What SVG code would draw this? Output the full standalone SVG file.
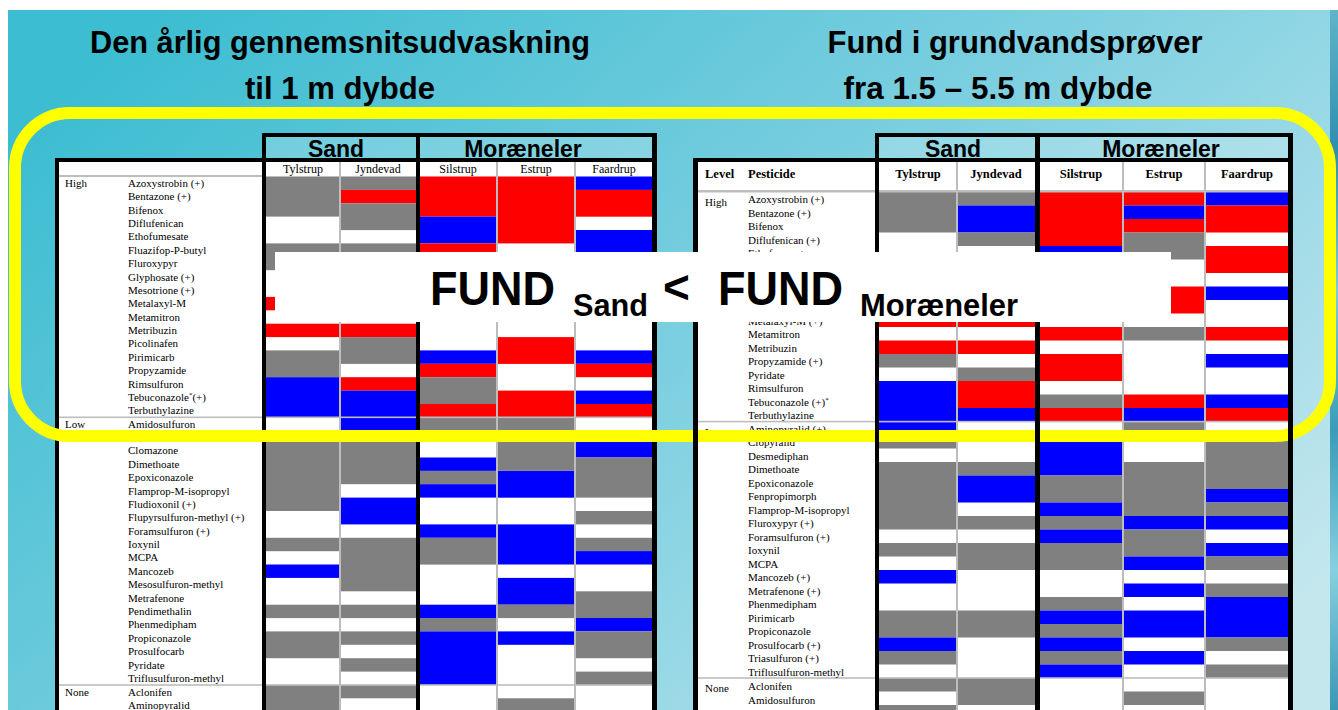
<svg xmlns="http://www.w3.org/2000/svg" width="1338" height="710" viewBox="0 0 1338 710">
<defs>
<linearGradient id="bg" x1="0" y1="0.2" x2="1" y2="0.8">
<stop offset="0" stop-color="#3dbdd1"/>
<stop offset="0.5" stop-color="#7ccfe0"/>
<stop offset="1" stop-color="#c4e7ee"/>
</linearGradient>
<linearGradient id="water" x1="0" y1="0" x2="0" y2="1">
<stop offset="0" stop-color="#5fb4c8"/>
<stop offset="0.2" stop-color="#2f8fae"/>
<stop offset="0.4" stop-color="#7ccbd9"/>
<stop offset="0.6" stop-color="#3a9cb8"/>
<stop offset="0.8" stop-color="#86d0de"/>
<stop offset="1" stop-color="#3a98b4"/>
</linearGradient>
</defs>
<style>
.t{font-family:"Liberation Sans",Arial,sans-serif;font-weight:bold;fill:#000}
.h{font-family:"Liberation Sans",Arial,sans-serif;font-weight:bold;font-size:23px;fill:#000;text-anchor:middle}
.l{font-family:"Liberation Serif","Times New Roman",serif;font-size:11px;fill:#000}
.sh{font-family:"Liberation Serif","Times New Roman",serif;font-size:12px;fill:#000;text-anchor:middle}
.rh{font-family:"Liberation Serif","Times New Roman",serif;font-size:12.5px;font-weight:bold;fill:#000}
.c{text-anchor:middle}
.G{fill:#808080}.R{fill:#ff0000}.B{fill:#0000ff}.W{fill:#ffffff}
.k{fill:#000}
.hd{fill:#ffffff;fill-opacity:0.2}
.sep{fill:#bdbdbd}
</style>

<g id="background">
<rect x="0" y="0" width="1338" height="710" fill="#ffffff"/>
<rect x="8" y="10" width="1330" height="700" fill="url(#bg)"/>
<rect x="1330" y="10" width="8" height="700" fill="url(#water)"/>
</g>

<g id="titles">
<text class="t" x="340" y="53" font-size="32" text-anchor="middle" textLength="500" lengthAdjust="spacingAndGlyphs">Den årlig gennemsnitsudvaskning</text>
<text class="t" x="340" y="99" font-size="32" text-anchor="middle" textLength="190" lengthAdjust="spacingAndGlyphs">til 1 m dybde</text>
<text class="t" x="1015" y="53" font-size="32" text-anchor="middle" textLength="375" lengthAdjust="spacingAndGlyphs">Fund i grundvandsprøver</text>
<text class="t" x="998" y="99" font-size="32" text-anchor="middle" textLength="309" lengthAdjust="spacingAndGlyphs">fra 1.5 – 5.5 m dybde</text>
</g>

<g id="left-table">
<rect class="hd" x="266" y="137" width="150" height="21"/>
<rect class="hd" x="420" y="137" width="232" height="21"/>
<text class="h" x="336" y="157">Sand</text>
<text class="h" x="523" y="157">Moræneler</text>
<rect class="W" x="59" y="162" width="203" height="548"/>
<rect class="W" x="266" y="162" width="386" height="548"/>
<rect class="sep" x="59" y="175" width="203" height="2"/>
<g id="left-cells">
<!-- Tylstrup -->
<rect class="G" x="266" y="176.5" width="74" height="40.1"/>
<rect class="G" x="266" y="243.4" width="74" height="26.8"/>
<rect class="R" x="266" y="296.9" width="74" height="13.4"/>
<rect class="R" x="266" y="323.7" width="74" height="13.4"/>
<rect class="G" x="266" y="350.4" width="74" height="26.8"/>
<rect class="B" x="266" y="377.2" width="74" height="40.1"/>
<rect class="G" x="266" y="430.7" width="74" height="80.3"/>
<rect class="G" x="266" y="537.8" width="74" height="13.4"/>
<rect class="B" x="266" y="564.5" width="74" height="13.4"/>
<rect class="G" x="266" y="604.7" width="74" height="13.4"/>
<rect class="G" x="266" y="631.4" width="74" height="26.8"/>
<rect class="G" x="266" y="684.9" width="74" height="26.8"/>
<!-- Jyndevad -->
<rect class="G" x="340" y="176.5" width="76" height="13.4"/>
<rect class="R" x="340" y="189.9" width="76" height="13.4"/>
<rect class="G" x="340" y="203.3" width="76" height="26.8"/>
<rect class="G" x="340" y="243.4" width="76" height="13.4"/>
<rect class="R" x="340" y="323.7" width="76" height="13.4"/>
<rect class="G" x="340" y="337.1" width="76" height="26.8"/>
<rect class="R" x="340" y="377.2" width="76" height="13.4"/>
<rect class="B" x="340" y="390.6" width="76" height="40.1"/>
<rect class="G" x="340" y="430.7" width="76" height="53.5"/>
<rect class="B" x="340" y="497.6" width="76" height="26.8"/>
<rect class="G" x="340" y="537.8" width="76" height="53.5"/>
<rect class="G" x="340" y="604.7" width="76" height="13.4"/>
<rect class="G" x="340" y="631.4" width="76" height="13.4"/>
<rect class="G" x="340" y="658.2" width="76" height="13.4"/>
<rect class="G" x="340" y="684.9" width="76" height="13.4"/>
<!-- Silstrup -->
<rect class="R" x="420" y="176.5" width="77" height="40.1"/>
<rect class="B" x="420" y="216.6" width="77" height="26.8"/>
<rect class="R" x="420" y="243.4" width="77" height="13.4"/>
<rect class="B" x="420" y="350.4" width="77" height="13.4"/>
<rect class="R" x="420" y="363.8" width="77" height="13.4"/>
<rect class="G" x="420" y="377.2" width="77" height="26.8"/>
<rect class="R" x="420" y="404" width="77" height="13.4"/>
<rect class="G" x="420" y="417.3" width="77" height="13.4"/>
<rect class="B" x="420" y="457.5" width="77" height="13.4"/>
<rect class="G" x="420" y="470.9" width="77" height="13.4"/>
<rect class="B" x="420" y="484.2" width="77" height="13.4"/>
<rect class="B" x="420" y="524.4" width="77" height="13.4"/>
<rect class="G" x="420" y="537.8" width="77" height="26.8"/>
<rect class="B" x="420" y="604.7" width="77" height="13.4"/>
<rect class="G" x="420" y="618" width="77" height="13.4"/>
<rect class="B" x="420" y="631.4" width="77" height="53.5"/>
<!-- Estrup -->
<rect class="R" x="497" y="176.5" width="78" height="66.9"/>
<rect class="R" x="497" y="337.1" width="78" height="26.8"/>
<rect class="R" x="497" y="390.6" width="78" height="26.8"/>
<rect class="G" x="497" y="417.3" width="78" height="53.5"/>
<rect class="B" x="497" y="470.9" width="78" height="26.8"/>
<rect class="B" x="497" y="524.4" width="78" height="40.1"/>
<rect class="B" x="497" y="577.9" width="78" height="26.8"/>
<rect class="G" x="497" y="604.7" width="78" height="13.4"/>
<rect class="B" x="497" y="631.4" width="78" height="13.4"/>
<rect class="G" x="497" y="698.3" width="78" height="13.4"/>
<!-- Faardrup -->
<rect class="B" x="575" y="176.5" width="77" height="13.4"/>
<rect class="R" x="575" y="189.9" width="77" height="26.8"/>
<rect class="B" x="575" y="230" width="77" height="26.8"/>
<rect class="B" x="575" y="350.4" width="77" height="13.4"/>
<rect class="R" x="575" y="363.8" width="77" height="13.4"/>
<rect class="B" x="575" y="390.6" width="77" height="13.4"/>
<rect class="R" x="575" y="404" width="77" height="13.4"/>
<rect class="B" x="575" y="430.7" width="77" height="26.8"/>
<rect class="G" x="575" y="457.5" width="77" height="40.1"/>
<rect class="G" x="575" y="511" width="77" height="13.4"/>
<rect class="G" x="575" y="537.8" width="77" height="13.4"/>
<rect class="B" x="575" y="551.1" width="77" height="13.4"/>
<rect class="G" x="575" y="591.3" width="77" height="26.8"/>
<rect class="B" x="575" y="618" width="77" height="13.4"/>
<rect class="G" x="575" y="631.4" width="77" height="26.8"/>
<rect class="G" x="575" y="671.6" width="77" height="13.4"/>
</g>
<rect class="sep" x="339" y="162" width="2" height="548"/>
<rect class="sep" x="496" y="162" width="2" height="548"/>
<rect class="sep" x="574" y="162" width="2" height="548"/>
<rect class="sep" x="59" y="416.5" width="593" height="1.6"/>
<rect class="sep" x="59" y="684.2" width="593" height="1.6"/>
<text class="sh" x="303" y="173">Tylstrup</text>
<text class="sh" x="378" y="173">Jyndevad</text>
<text class="sh" x="458" y="173">Silstrup</text>
<text class="sh" x="536" y="173">Estrup</text>
<text class="sh" x="614" y="173">Faardrup</text>
<g id="left-labels">
<text class="l" x="65" y="187">High</text>
<text class="l" x="65" y="428">Low</text>
<text class="l" x="65" y="695.6">None</text>
<text class="l" x="128" y="187">Azoxystrobin (+)</text>
<text class="l" x="128" y="200.2">Bentazone (+)</text>
<text class="l" x="128" y="213.6">Bifenox</text>
<text class="l" x="128" y="227">Diflufenican</text>
<text class="l" x="128" y="240.4">Ethofumesate</text>
<text class="l" x="128" y="253.7">Fluazifop-P-butyl</text>
<text class="l" x="128" y="267.1">Fluroxypyr</text>
<text class="l" x="128" y="280.5">Glyphosate (+)</text>
<text class="l" x="128" y="293.9">Mesotrione (+)</text>
<text class="l" x="128" y="307.3">Metalaxyl-M</text>
<text class="l" x="128" y="320.7">Metamitron</text>
<text class="l" x="128" y="334">Metribuzin</text>
<text class="l" x="128" y="347.4">Picolinafen</text>
<text class="l" x="128" y="360.8">Pirimicarb</text>
<text class="l" x="128" y="374.2">Propyzamide</text>
<text class="l" x="128" y="387.6">Rimsulfuron</text>
<text class="l" x="128" y="400.9">Tebuconazole<tspan font-size="7" dy="-4">*</tspan><tspan dy="4">(+)</tspan></text>
<text class="l" x="128" y="414.3">Terbuthylazine</text>
<text class="l" x="128" y="428">Amidosulfuron</text>
<text class="l" x="128" y="454.4">Clomazone</text>
<text class="l" x="128" y="467.8">Dimethoate</text>
<text class="l" x="128" y="481.2">Epoxiconazole</text>
<text class="l" x="128" y="494.5">Flamprop-M-isopropyl</text>
<text class="l" x="128" y="507.9">Fludioxonil (+)</text>
<text class="l" x="128" y="521.3">Flupyrsulfuron-methyl (+)</text>
<text class="l" x="128" y="534.7">Foramsulfuron (+)</text>
<text class="l" x="128" y="548.1">Ioxynil</text>
<text class="l" x="128" y="561.4">MCPA</text>
<text class="l" x="128" y="574.8">Mancozeb</text>
<text class="l" x="128" y="588.2">Mesosulfuron-methyl</text>
<text class="l" x="128" y="601.6">Metrafenone</text>
<text class="l" x="128" y="615">Pendimethalin</text>
<text class="l" x="128" y="628.3">Phenmedipham</text>
<text class="l" x="128" y="641.7">Propiconazole</text>
<text class="l" x="128" y="655.1">Prosulfocarb</text>
<text class="l" x="128" y="668.5">Pyridate</text>
<text class="l" x="128" y="681.9">Triflusulfuron-methyl</text>
<text class="l" x="128" y="695.6">Aclonifen</text>
<text class="l" x="128" y="708.6">Aminopyralid</text>
</g>
<g id="left-frame">
<rect class="k" x="55" y="158" width="602" height="4"/>
<rect class="k" x="55" y="158" width="4" height="552"/>
<rect class="k" x="262" y="133" width="395" height="4"/>
<rect class="k" x="262" y="133" width="4" height="577"/>
<rect class="k" x="416" y="133" width="4" height="577"/>
<rect class="k" x="652" y="133" width="5" height="577"/>
</g>
</g>

<g id="right-table">
<rect class="hd" x="879" y="137" width="156" height="21"/>
<rect class="hd" x="1040" y="137" width="248" height="21"/>
<text class="h" x="953" y="157">Sand</text>
<text class="h" x="1161" y="157">Moræneler</text>
<rect class="W" x="698" y="162" width="177" height="548"/>
<rect class="W" x="879" y="162" width="409" height="548"/>
<g id="right-cells">
<!-- Tylstrup -->
<rect class="G" x="879" y="192" width="78" height="40.5"/>
<rect class="R" x="879" y="313.5" width="78" height="13.5"/>
<rect class="R" x="879" y="340.5" width="78" height="13.5"/>
<rect class="G" x="879" y="354" width="78" height="13.5"/>
<rect class="B" x="879" y="381" width="78" height="54"/>
<rect class="G" x="879" y="435" width="78" height="13.5"/>
<rect class="G" x="879" y="462" width="78" height="67.5"/>
<rect class="G" x="879" y="543" width="78" height="13.5"/>
<rect class="B" x="879" y="570" width="78" height="13.5"/>
<rect class="G" x="879" y="610.5" width="78" height="27"/>
<rect class="B" x="879" y="637.5" width="78" height="13.5"/>
<rect class="G" x="879" y="651" width="78" height="13.5"/>
<rect class="G" x="879" y="678" width="78" height="13.5"/>
<rect class="G" x="879" y="705" width="78" height="13.5"/>
<!-- Jyndevad -->
<rect class="G" x="957" y="192" width="78" height="13.5"/>
<rect class="B" x="957" y="205.5" width="78" height="27"/>
<rect class="G" x="957" y="232.5" width="78" height="13.5"/>
<rect class="R" x="957" y="313.5" width="78" height="13.5"/>
<rect class="R" x="957" y="340.5" width="78" height="13.5"/>
<rect class="G" x="957" y="367.5" width="78" height="13.5"/>
<rect class="R" x="957" y="381" width="78" height="27"/>
<rect class="B" x="957" y="408" width="78" height="13.5"/>
<rect class="G" x="957" y="462" width="78" height="13.5"/>
<rect class="B" x="957" y="475.5" width="78" height="27"/>
<rect class="G" x="957" y="516" width="78" height="13.5"/>
<rect class="G" x="957" y="543" width="78" height="27"/>
<rect class="G" x="957" y="610.5" width="78" height="27"/>
<rect class="G" x="957" y="678" width="78" height="27"/>
<!-- Silstrup -->
<rect class="R" x="1040" y="192" width="83" height="54"/>
<rect class="B" x="1040" y="246" width="83" height="13.5"/>
<rect class="R" x="1040" y="327" width="83" height="13.5"/>
<rect class="R" x="1040" y="354" width="83" height="27"/>
<rect class="G" x="1040" y="394.5" width="83" height="13.5"/>
<rect class="R" x="1040" y="408" width="83" height="13.5"/>
<rect class="B" x="1040" y="435" width="83" height="40.5"/>
<rect class="G" x="1040" y="475.5" width="83" height="27"/>
<rect class="B" x="1040" y="502.5" width="83" height="13.5"/>
<rect class="G" x="1040" y="516" width="83" height="13.5"/>
<rect class="B" x="1040" y="529.5" width="83" height="13.5"/>
<rect class="G" x="1040" y="543" width="83" height="27"/>
<rect class="G" x="1040" y="597" width="83" height="13.5"/>
<rect class="B" x="1040" y="610.5" width="83" height="13.5"/>
<rect class="G" x="1040" y="624" width="83" height="13.5"/>
<rect class="B" x="1040" y="637.5" width="83" height="13.5"/>
<rect class="G" x="1040" y="651" width="83" height="13.5"/>
<rect class="B" x="1040" y="664.5" width="83" height="13.5"/>
<!-- Estrup -->
<rect class="R" x="1123" y="192" width="82" height="13.5"/>
<rect class="B" x="1123" y="205.5" width="82" height="13.5"/>
<rect class="R" x="1123" y="219" width="82" height="13.5"/>
<rect class="G" x="1123" y="232.5" width="82" height="27"/>
<rect class="R" x="1123" y="286.5" width="82" height="27"/>
<rect class="G" x="1123" y="327" width="82" height="13.5"/>
<rect class="R" x="1123" y="394.5" width="82" height="13.5"/>
<rect class="B" x="1123" y="408" width="82" height="13.5"/>
<rect class="G" x="1123" y="421.5" width="82" height="13.5"/>
<rect class="G" x="1123" y="462" width="82" height="54"/>
<rect class="B" x="1123" y="516" width="82" height="13.5"/>
<rect class="G" x="1123" y="529.5" width="82" height="27"/>
<rect class="B" x="1123" y="556.5" width="82" height="13.5"/>
<rect class="B" x="1123" y="583.5" width="82" height="13.5"/>
<rect class="B" x="1123" y="610.5" width="82" height="27"/>
<rect class="B" x="1123" y="651" width="82" height="13.5"/>
<rect class="G" x="1123" y="691.5" width="82" height="13.5"/>
<!-- Faardrup -->
<rect class="B" x="1205" y="192" width="83" height="13.5"/>
<rect class="R" x="1205" y="205.5" width="83" height="27"/>
<rect class="R" x="1205" y="246" width="83" height="27"/>
<rect class="B" x="1205" y="286.5" width="83" height="13.5"/>
<rect class="R" x="1205" y="327" width="83" height="13.5"/>
<rect class="B" x="1205" y="354" width="83" height="13.5"/>
<rect class="B" x="1205" y="394.5" width="83" height="13.5"/>
<rect class="R" x="1205" y="408" width="83" height="13.5"/>
<rect class="G" x="1205" y="435" width="83" height="54"/>
<rect class="B" x="1205" y="489" width="83" height="13.5"/>
<rect class="G" x="1205" y="502.5" width="83" height="13.5"/>
<rect class="B" x="1205" y="516" width="83" height="13.5"/>
<rect class="B" x="1205" y="543" width="83" height="13.5"/>
<rect class="G" x="1205" y="556.5" width="83" height="13.5"/>
<rect class="G" x="1205" y="583.5" width="83" height="13.5"/>
<rect class="B" x="1205" y="597" width="83" height="40.5"/>
<rect class="G" x="1205" y="637.5" width="83" height="13.5"/>
<rect class="G" x="1205" y="664.5" width="83" height="13.5"/>
</g>
<rect class="sep" x="956" y="162" width="2" height="548"/>
<rect class="sep" x="1122" y="162" width="2" height="548"/>
<rect class="sep" x="1204" y="162" width="2" height="548"/>
<rect class="sep" x="698" y="190" width="590" height="2.5"/>
<rect class="sep" x="698" y="420.8" width="590" height="1.6"/>
<rect class="sep" x="698" y="677.2" width="590" height="1.6"/>
<text class="rh" x="705" y="178">Level</text>
<text class="rh" x="748" y="178">Pesticide</text>
<text class="rh c" x="918" y="178">Tylstrup</text>
<text class="rh c" x="996" y="178">Jyndevad</text>
<text class="rh c" x="1081" y="178">Silstrup</text>
<text class="rh c" x="1164" y="178">Estrup</text>
<text class="rh c" x="1247" y="178">Faardrup</text>
<g id="right-labels">
<text class="l" x="705" y="206">High</text>
<text class="l" x="705" y="435.5">Low</text>
<text class="l" x="705" y="692">None</text>
<text class="l" x="748" y="203">Azoxystrobin (+)</text>
<text class="l" x="748" y="216.5">Bentazone (+)</text>
<text class="l" x="748" y="230">Bifenox</text>
<text class="l" x="748" y="243.5">Diflufenican (+)</text>
<text class="l" x="748" y="257">Ethofumesate</text>
<text class="l" x="748" y="324.5">Metalaxyl-M (+)</text>
<text class="l" x="748" y="338">Metamitron</text>
<text class="l" x="748" y="351.5">Metribuzin</text>
<text class="l" x="748" y="365">Propyzamide (+)</text>
<text class="l" x="748" y="378.5">Pyridate</text>
<text class="l" x="748" y="392">Rimsulfuron</text>
<text class="l" x="748" y="405.5">Tebuconazole (+)<tspan font-size="7" dy="-4">*</tspan></text>
<text class="l" x="748" y="419">Terbuthylazine</text>
<text class="l" x="748" y="432.5">Aminopyralid (+)</text>
<text class="l" x="748" y="446">Clopyralid</text>
<text class="l" x="748" y="459.5">Desmediphan</text>
<text class="l" x="748" y="473">Dimethoate</text>
<text class="l" x="748" y="486.5">Epoxiconazole</text>
<text class="l" x="748" y="500">Fenpropimorph</text>
<text class="l" x="748" y="513.5">Flamprop-M-isopropyl</text>
<text class="l" x="748" y="527">Fluroxypyr (+)</text>
<text class="l" x="748" y="540.5">Foramsulfuron (+)</text>
<text class="l" x="748" y="554">Ioxynil</text>
<text class="l" x="748" y="567.5">MCPA</text>
<text class="l" x="748" y="581">Mancozeb (+)</text>
<text class="l" x="748" y="594.5">Metrafenone (+)</text>
<text class="l" x="748" y="608">Phenmedipham</text>
<text class="l" x="748" y="621.5">Pirimicarb</text>
<text class="l" x="748" y="635">Propiconazole</text>
<text class="l" x="748" y="648.5">Prosulfocarb (+)</text>
<text class="l" x="748" y="662">Triasulfuron (+)</text>
<text class="l" x="748" y="675.5">Triflusulfuron-methyl</text>
<text class="l" x="748" y="690">Aclonifen</text>
<text class="l" x="748" y="703.5">Amidosulfuron</text>
<text class="l" x="748" y="717">Boscalid</text>
</g>
</g>

<g id="highlight">
<rect x="15" y="113" width="1315" height="323" rx="55" ry="55" fill="none" stroke="#ffff00" stroke-width="12"/>
</g>

<g id="right-frame">
<rect class="k" x="693" y="158" width="600" height="4"/>
<rect class="k" x="693" y="158" width="5" height="552"/>
<rect class="k" x="875" y="133" width="418" height="4"/>
<rect class="k" x="875" y="133" width="4" height="577"/>
<rect class="k" x="1035" y="133" width="5" height="577"/>
<rect class="k" x="1288" y="133" width="5" height="577"/>
</g>

<g id="overlay">
<rect x="275" y="252" width="896" height="70" fill="#ffffff"/>
<text class="t" x="430" y="305" font-size="48" textLength="125" lengthAdjust="spacingAndGlyphs">FUND</text>
<text class="t" x="573" y="316" font-size="32" textLength="75" lengthAdjust="spacingAndGlyphs">Sand</text>
<text class="t" x="663" y="303" font-size="46">&lt;</text>
<text class="t" x="718" y="305" font-size="48" textLength="125" lengthAdjust="spacingAndGlyphs">FUND</text>
<text class="t" x="860" y="316" font-size="32" textLength="158" lengthAdjust="spacingAndGlyphs">Moræneler</text>
</g>
</svg>
